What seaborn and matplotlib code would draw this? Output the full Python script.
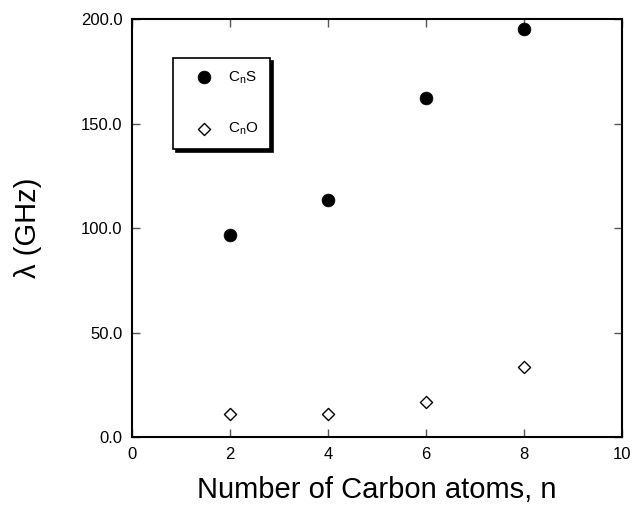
import matplotlib
matplotlib.use("Agg")
import matplotlib.pyplot as plt
import seaborn as sns
import pandas as pd
from matplotlib.ticker import FormatStrFormatter, FixedLocator

n_atoms = [2, 4, 6, 8]
cns_values = [96.9, 113.3, 162.1, 195.2]
cno_values = [11.0, 11.3, 16.9, 33.8]
series_labels = [r"C$_{\mathregular{n}}$S", r"C$_{\mathregular{n}}$O"]
x_ticks = [0, 2, 4, 6, 8, 10]
y_ticks = [0, 50, 100, 150, 200]

sns.set_style("white")
plt.rcParams["font.family"] = ["Liberation Sans", "DejaVu Sans"]
plt.rcParams["mathtext.fontset"] = "custom"
plt.rcParams["mathtext.rm"] = "Liberation Sans"
plt.rcParams["mathtext.it"] = "Liberation Sans"
plt.rcParams["text.color"] = "black"
plt.rcParams["axes.labelcolor"] = "black"
plt.rcParams["xtick.color"] = "black"
plt.rcParams["ytick.color"] = "black"

df_s = pd.DataFrame({"n": n_atoms, "lam": cns_values})
df_o = pd.DataFrame({"n": n_atoms, "lam": cno_values})

fig = plt.figure(figsize=(6.33, 5.08), dpi=100)
ax = fig.add_axes([0.2085, 0.1388, 0.774, 0.8238])

sns.scatterplot(data=df_s, x="n", y="lam", ax=ax, marker="o", s=85,
                color="black", edgecolor="black", linewidth=0.5,
                label=series_labels[0], zorder=3)
sns.scatterplot(data=df_o, x="n", y="lam", ax=ax, marker="D", s=38,
                facecolor="white", edgecolor="black", linewidth=1.0,
                label=series_labels[1], zorder=3)

ax.set_xlim(0, 10)
ax.set_ylim(0, 200)
ax.xaxis.set_major_locator(FixedLocator(x_ticks))
ax.yaxis.set_major_locator(FixedLocator(y_ticks))
ax.yaxis.set_major_formatter(FormatStrFormatter("%.1f"))
ax.tick_params(direction="in", length=6, width=1, color="#555555",
               labelcolor="black",
               top=True, right=True, bottom=True, left=True,
               labelsize=12, pad=7)
for sp in ax.spines.values():
    sp.set_visible(True)
    sp.set_color("black")
    sp.set_linewidth(1.5)

ax.set_xlabel("Number of Carbon atoms, n", fontsize=21, labelpad=10,
              color="black")
ax.set_ylabel("λ (GHz)", fontsize=21, labelpad=28, color="black")

leg = ax.legend(loc="upper left", bbox_to_anchor=(0.084, 0.907),
                borderaxespad=0, frameon=True, fancybox=False,
                shadow={"color": "black", "alpha": 1, "ox": 2, "oy": -2},
                fontsize=11, labelspacing=2.3, handletextpad=0.35,
                borderpad=0.75, handlelength=2.5)
leg.get_frame().set_edgecolor("black")
leg.get_frame().set_linewidth(1.2)
leg.get_frame().set_facecolor("white")
leg.get_frame().set_alpha(1)
for t in leg.get_texts():
    t.set_color("black")

fig.savefig("out.png", dpi=100)
